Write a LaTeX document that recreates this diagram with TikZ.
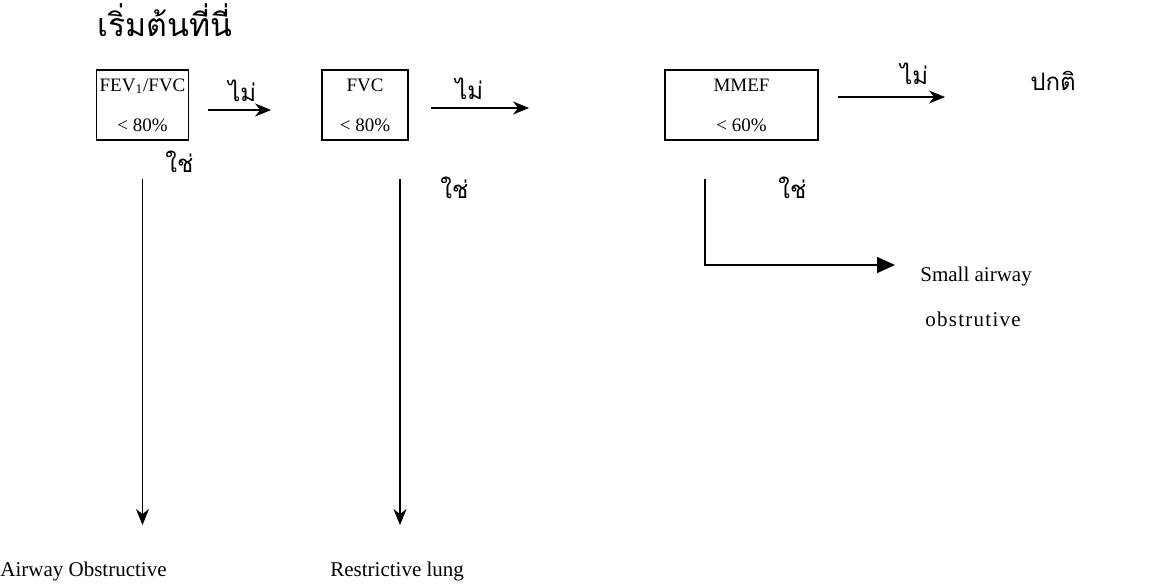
\documentclass[tikz,border=0pt]{standalone}
\usepackage{fontspec}
\setmainfont{Liberation Serif}
\newfontfamily\thaifont[Script=Thai]{Loma}
\usetikzlibrary{arrows.meta,positioning}

\tikzset{
  testbox/.style={draw,line width=0.9pt,align=center,inner sep=0pt,font=\fontsize{9.5}{20}\selectfont},
  flow/.style={line width=0.8pt,-{Stealth[length=8pt,width=6.5pt,inset=2.5pt]}},
  side/.style={line width=0.8pt,-{Triangle[length=9pt,width=8pt]}},
  thlabel/.style={font=\thaifont\fontsize{12}{14}\selectfont,inner sep=0pt,anchor=base west},
  entext/.style={font=\fontsize{10.5}{12}\selectfont,inner sep=0pt,anchor=base west}
}

\begin{document}
\begin{tikzpicture}[x=0.5pt,y=-0.5pt]
  \useasboundingbox (0,0) rectangle (1152,584);
  % title
  \node[thlabel,font=\thaifont\fontsize{16}{18}\selectfont] (start) at (97,36) {เริ่มต้นที่นี่};
  % the three tests
  \node[testbox,minimum width=46pt,minimum height=35pt] (fevbox) at (142.5,105) {FEV\textsubscript{1}/FVC\\< 80\%};
  \node[testbox,minimum width=43pt,minimum height=35pt] (fvcbox) at (365,105) {FVC\\< 80\%};
  \node[testbox,minimum width=76.5pt,minimum height=35pt] (mmefbox) at (741.5,105) {MMEF\\< 60\%};
  % results
  \node[thlabel] (normal) at (1030,90) {ปกติ};
  \node[entext] (airway) at (0,576) {Airway Obstructive};
  \node[entext] (restrict) at (330,576) {Restrictive lung};
  \node[entext] (smallair) at (920,281) {Small airway};
  \node[entext,font=\fontsize{10.5}{12}\selectfont\addfontfeatures{LetterSpace=6}] (obstr) at (925,326) {obstrutive};
  % no branches
  \coordinate (end3) at (945,97);
  \draw[flow,shorten <=9.5pt,shorten >=25pt] ([yshift=-2.5pt]fevbox.east) -- ([yshift=-2.5pt]fvcbox.west);
  \draw[flow,shorten <=11pt,shorten >=67.5pt] ([yshift=-1.5pt]fvcbox.east) -- ([yshift=-1.5pt]mmefbox.west);
  \draw[flow,shorten <=9.5pt] ([yshift=4pt]mmefbox.east) -- (end3);
  \node[thlabel] (no1) at (228,101) {ไม่};
  \node[thlabel] (no2) at (455,99) {ไม่};
  \node[thlabel] (no3) at (900,84) {ไม่};
  % yes branches
  \coordinate (tip3) at (895,265);
  \draw[flow,shorten <=19pt,shorten >=18pt] (fevbox.south) -- (fevbox.south |- airway.north);
  \draw[flow,shorten <=19pt,shorten >=18pt] ([xshift=17.5pt]fvcbox.south) -- ([xshift=17.5pt]fvcbox.south |- restrict.north);
  \draw[side,shorten <=19pt] ([xshift=-18.25pt]mmefbox.south) |- (tip3);
  \node[thlabel] (yes1) at (165,172) {ใช่};
  \node[thlabel] (yes2) at (440,198) {ใช่};
  \node[thlabel] (yes3) at (778,198) {ใช่};
\end{tikzpicture}
\end{document}
